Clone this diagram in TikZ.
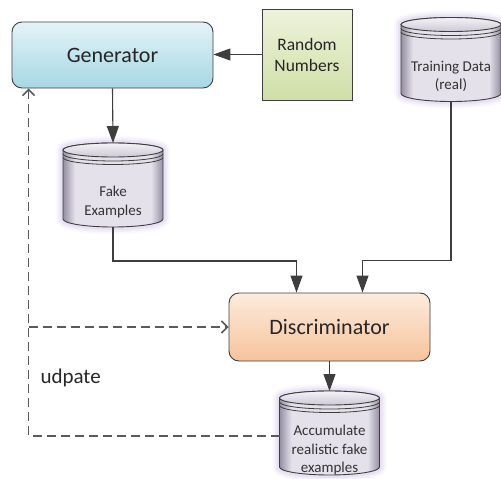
\documentclass[tikz,border=0pt]{standalone}
\usepackage{fontspec}
\setmainfont{Carlito}
\usetikzlibrary{arrows.meta}

\definecolor{genlight}{HTML}{E3F3F7}
\definecolor{gendark}{HTML}{A6D7E4}
\definecolor{randlight}{HTML}{EDF3DC}
\definecolor{randdark}{HTML}{CFDFA6}
\definecolor{disclight}{HTML}{FDEBDD}
\definecolor{discdark}{HTML}{F6C39B}
\definecolor{drumedge}{HTML}{958FA2}
\definecolor{drummid}{HTML}{E4E1EB}
\definecolor{lidlight}{HTML}{F4F3F7}
\definecolor{liddark}{HTML}{CDC9D6}
\definecolor{drumhalo}{HTML}{B9A6DB}
\definecolor{edgegray}{HTML}{3E3E3E}
\definecolor{dashgray}{HTML}{5A5A5A}

% light middle, dark sides
\pgfdeclarehorizontalshading{drumbody}{100bp}{color(0bp)=(drumedge); color(25bp)=(drumedge);
  color(31bp)=(drummid); color(69bp)=(drummid); color(75bp)=(drumedge); color(100bp)=(drumedge)}

\tikzset{
  block/.style={draw=edgegray, line width=0.9pt, rounded corners=10pt,
    minimum width=201pt, minimum height=66pt, text=black!85,
    font=\fontsize{22}{26}\selectfont},
  genblock/.style={block, top color=genlight, bottom color=gendark},
  discblock/.style={block, top color=disclight, bottom color=discdark, minimum height=68pt},
  randblock/.style={draw=edgegray, line width=0.9pt, top color=randlight, bottom color=randdark,
    minimum width=90pt, minimum height=91pt, align=center, text=black!85,
    font=\fontsize{17.5}{21}\selectfont},
  drumtext/.style={align=center, text=black!80, font=\fontsize{15}{18.5}\selectfont},
  feed/.style={draw=edgegray, line width=1.1pt, -{Triangle[length=17pt,width=12pt]}},
  upd/.style={draw=dashgray, line width=1.6pt, dash pattern=on 9pt off 5pt,
    -{Straight Barb[length=6pt,width=12pt]}},
  drum/.pic={
    % soft halo round the drum
    \foreach \g/\o in {14/.08, 10/.12, 6/.16}
      \draw[drumhalo, line width=\g pt, opacity=\o, line join=round]
        (-50,35) -- (-50,-34) arc[start angle=180, end angle=360, x radius=50, y radius=8]
        -- (50,35) arc[start angle=0, end angle=180, x radius=50, y radius=7] -- cycle;
    % body, lid and the rim lines under the lid
    \draw[draw=edgegray, line width=0.9pt, shading=drumbody]
      (-50,35) -- (-50,-34) arc[start angle=180, end angle=360, x radius=50, y radius=8]
      -- (50,35) arc[start angle=0, end angle=180, x radius=50, y radius=7] -- cycle;
    \draw[draw=edgegray, line width=0.9pt, top color=lidlight, bottom color=liddark]
      (0,35) ellipse[x radius=50, y radius=7];
    \draw[draw=edgegray, line width=0.8pt] (-50,31) arc[start angle=180, end angle=360, x radius=50, y radius=7];
    \draw[draw=edgegray, line width=0.8pt] (-50,27.5) arc[start angle=180, end angle=360, x radius=50, y radius=7];
    \coordinate (-top) at (0,42);
    \coordinate (-bot) at (0,-42);
    \coordinate (-west) at (-50,-3);
    \node[drumtext] (-text) at (0,-17) {#1};
  }
}

\begin{document}
\begin{tikzpicture}[x=1pt, y=1pt]
  \useasboundingbox (0,0) rectangle (501,-479);

  \node[genblock] (gen) at (112.5,-55) {Generator};
  \node[randblock] (rand) at (307,-54.5) {Random\\Numbers};
  \node[discblock] (disc) at (329.5,-327) {Discriminator};

  \pic (fake) at (113,-185) {drum={Fake\\Examples}};
  \pic (real) at (451,-59.5) {drum={Training Data\\(real)}};
  \pic (keep) at (329.5,-433) {drum={Accumulate\\realistic fake\\examples}};

  \node[font=\fontsize{21}{25}\selectfont, text=black!85, anchor=west] (updtext) at (37,-378) {udpate};

  % data flow
  \draw[feed] (rand.west) -- (rand.west -| gen.east);
  \draw[feed] (gen.south) -- (fake-top);
  \draw[feed] (fake-bot) -- ++(0,-34) -| ([xshift=-33pt]disc.north);
  \draw[feed] (real-bot) -- ++(0,-159) -| ([xshift=33pt]disc.north);
  \draw[feed] (disc.south) -- (keep-top);

  % update loop
  \draw[upd] (keep-west) -| ([xshift=17pt]gen.south west);
  \draw[upd] ([xshift=17pt]gen.south west |- disc.west) -- (disc.west);
\end{tikzpicture}
\end{document}
